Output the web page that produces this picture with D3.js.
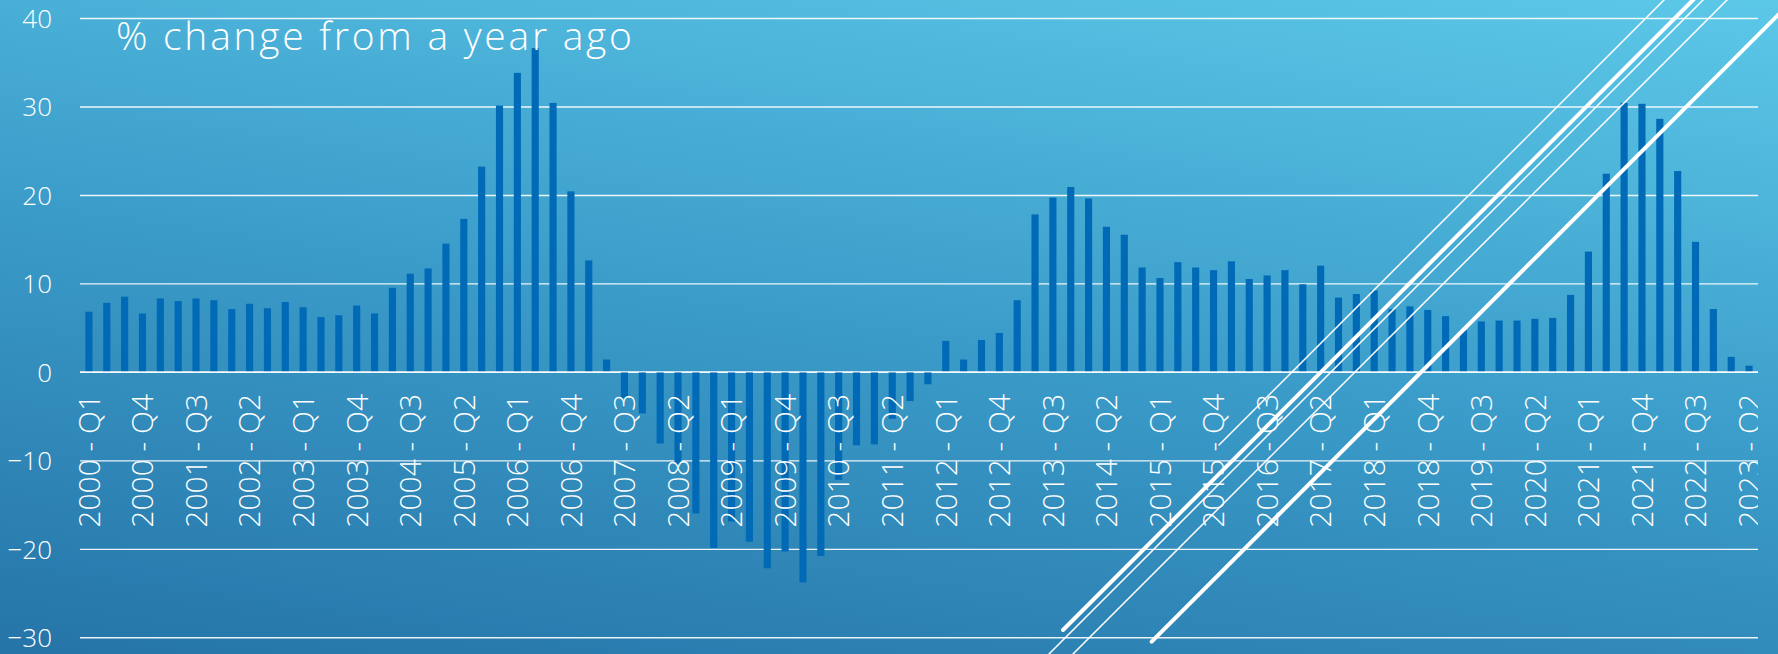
<!DOCTYPE html>
<html>
<head>
<meta charset="utf-8">
<script src="https://cdn.jsdelivr.net/npm/d3@7"></script>
<style>
  html, body { margin: 0; padding: 0; background: #2f8cc0; }
  svg { display: block; }
  text { font-family: "Open Sans", "Noto Sans", sans-serif; font-weight: 300; fill: #ffffff; }
</style>
</head>
<body>
<svg id="chart" width="1778" height="654"></svg>
<script>
// Quarterly year-over-year change, 2000 Q1 – 2023 Q2
const years = d3.range(2000, 2024);
const quarters = ["Q1", "Q2", "Q3", "Q4"];
const categories = years.flatMap(y => quarters.map(q => `${y} - ${q}`)).slice(0, 94);

const values = [
  6.8, 7.8, 8.5, 6.6,        // 2000
  8.3, 8.0, 8.3, 8.1,        // 2001
  7.1, 7.7, 7.2, 7.9,        // 2002
  7.3, 6.2, 6.4, 7.5,        // 2003
  6.6, 9.5, 11.1, 11.7,      // 2004
  14.5, 17.3, 23.2, 30.1,    // 2005
  33.8, 36.6, 30.4, 20.4,    // 2006
  12.6, 1.4, -3.0, -4.7,     // 2007
  -8.1, -10.4, -16.0, -19.9, // 2008
  -16.9, -19.2, -22.2, -20.3,// 2009
  -23.8, -20.8, -12.2, -8.3, // 2010
  -8.2, -5.3, -3.3, -1.4,    // 2011
  3.5, 1.4, 3.6, 4.4,        // 2012
  8.1, 17.8, 19.7, 20.9,     // 2013
  19.6, 16.4, 15.5, 11.8,    // 2014
  10.6, 12.4, 11.8, 11.5,    // 2015
  12.5, 10.5, 10.9, 11.5,    // 2016
  9.9, 12.0, 8.4, 8.8,       // 2017
  9.2, 7.1, 7.4, 7.0,        // 2018
  6.3, 4.7, 5.7, 5.8,        // 2019
  5.8, 6.0, 6.1, 8.7,        // 2020
  13.6, 22.4, 30.4, 30.3,    // 2021
  28.6, 22.7, 14.7, 7.1,     // 2022
  1.7, 0.7                   // 2023
];

const yTicks = [-30, -20, -10, 0, 10, 20, 30, 40];
// every third quarter gets a label
const xTickLabels = categories.filter((d, i) => i % 3 === 0);
const titleText = "% change from a year ago";

const W = 1778, H = 654;
const plot = { left: 80, right: 1758, top: 18, bottom: 637.3 };

const svg = d3.select("#chart");
const defs = svg.append("defs");

// background gradient: deep blue lower-left to light cyan upper-right
const grad = defs.append("linearGradient")
  .attr("id", "bg")
  .attr("gradientUnits", "userSpaceOnUse")
  .attr("x1", 0).attr("y1", H)
  .attr("x2", 129).attr("y2", -238);
grad.append("stop").attr("offset", 0).attr("stop-color", "#2574a8");
grad.append("stop").attr("offset", 0.5).attr("stop-color", "#3b9cc9");
grad.append("stop").attr("offset", 1).attr("stop-color", "#5cc8e8");

defs.append("clipPath").attr("id", "plotClip")
  .append("rect").attr("x", 0).attr("y", 0)
  .attr("width", plot.right).attr("height", H);

svg.append("rect").attr("width", W).attr("height", H).attr("fill", "url(#bg)");

const x = d3.scaleBand()
  .domain(categories)
  .range([plot.left, plot.right])
  .paddingInner(0.6)
  .paddingOuter(0.3);

const y = d3.scaleLinear()
  .domain([-30, 40])
  .range([plot.bottom, plot.top]);

// horizontal gridlines
const yAxis = d3.axisLeft(y)
  .tickValues(yTicks)
  .tickSize(-(plot.right - plot.left))
  .tickPadding(28)
  .tickFormat(d3.format("d"));

const yg = svg.append("g")
  .attr("transform", `translate(${plot.left},0)`)
  .call(yAxis);
yg.select(".domain").remove();
yg.selectAll(".tick line")
  .attr("stroke", "#ffffff")
  .attr("stroke-opacity", 0.9)
  .attr("stroke-width", 1.4);
yg.selectAll(".tick text")
  .attr("font-size", 26)
  .attr("fill", "#ffffff")
  .attr("dy", "0.36em")
  .style("font-family", "'Open Sans', 'Noto Sans', sans-serif")
  .style("font-weight", 300);

// bars
svg.append("g")
  .selectAll("rect")
  .data(values)
  .join("rect")
  .attr("x", (d, i) => x(categories[i]))
  .attr("width", x.bandwidth())
  .attr("y", d => y(Math.max(0, d)))
  .attr("height", d => Math.abs(y(d) - y(0)))
  .attr("fill", "#006ab6");

// zero line redrawn on top of bar bases
svg.append("line")
  .attr("x1", plot.left).attr("x2", plot.right)
  .attr("y1", y(0)).attr("y2", y(0))
  .attr("stroke", "#ffffff").attr("stroke-opacity", 0.9).attr("stroke-width", 1.4);

// category labels, rotated, clipped at the plot's right edge
const xAxis = d3.axisBottom(x)
  .tickValues(xTickLabels)
  .tickSize(0)
  .tickPadding(0);

const xg = svg.append("g")
  .attr("clip-path", "url(#plotClip)")
  .append("g")
  .attr("transform", `translate(0,${y(0)})`)
  .call(xAxis);
xg.select(".domain").remove();
xg.selectAll(".tick text")
  .attr("transform", "rotate(-90)")
  .attr("text-anchor", "end")
  .attr("x", -22)
  .attr("y", 0)
  .attr("dy", "0.36em")
  .attr("font-size", 30)
  .attr("fill", "#ffffff")
  .style("font-family", "'Open Sans', 'Noto Sans', sans-serif")
  .style("font-weight", 300);

// chart title inside the plot, spread to its set width
const title = svg.append("text")
  .attr("x", 116)
  .attr("y", 50)
  .attr("font-size", 39)
  .text(titleText);
const titleWidth = 516;
const natural = title.node().getComputedTextLength();
title.attr("letter-spacing", Math.max(0, (titleWidth - natural) / (titleText.length - 1)));

// decorative diagonal strokes across the lower right
const strokes = [
  { x1: 1063, y1: 630, x2: 1763, y2: -70, w: 4 },
  { x1: 1040, y1: 663, x2: 1763, y2: -60, w: 1.5 },
  { x1: 1064, y1: 663, x2: 1787, y2: -60, w: 1.5 },
  { x1: 1151.7, y1: 641.7, x2: 1853, y2: -60, w: 4 },
  { x1: 1219, y1: 445, x2: 1724, y2: -60, w: 1.5 }
];
svg.append("g")
  .selectAll("line")
  .data(strokes)
  .join("line")
  .attr("x1", d => d.x1).attr("y1", d => d.y1)
  .attr("x2", d => d.x2).attr("y2", d => d.y2)
  .attr("stroke", "#ffffff")
  .attr("stroke-width", d => d.w)
  .attr("stroke-linecap", "round");
</script>
</body>
</html>
